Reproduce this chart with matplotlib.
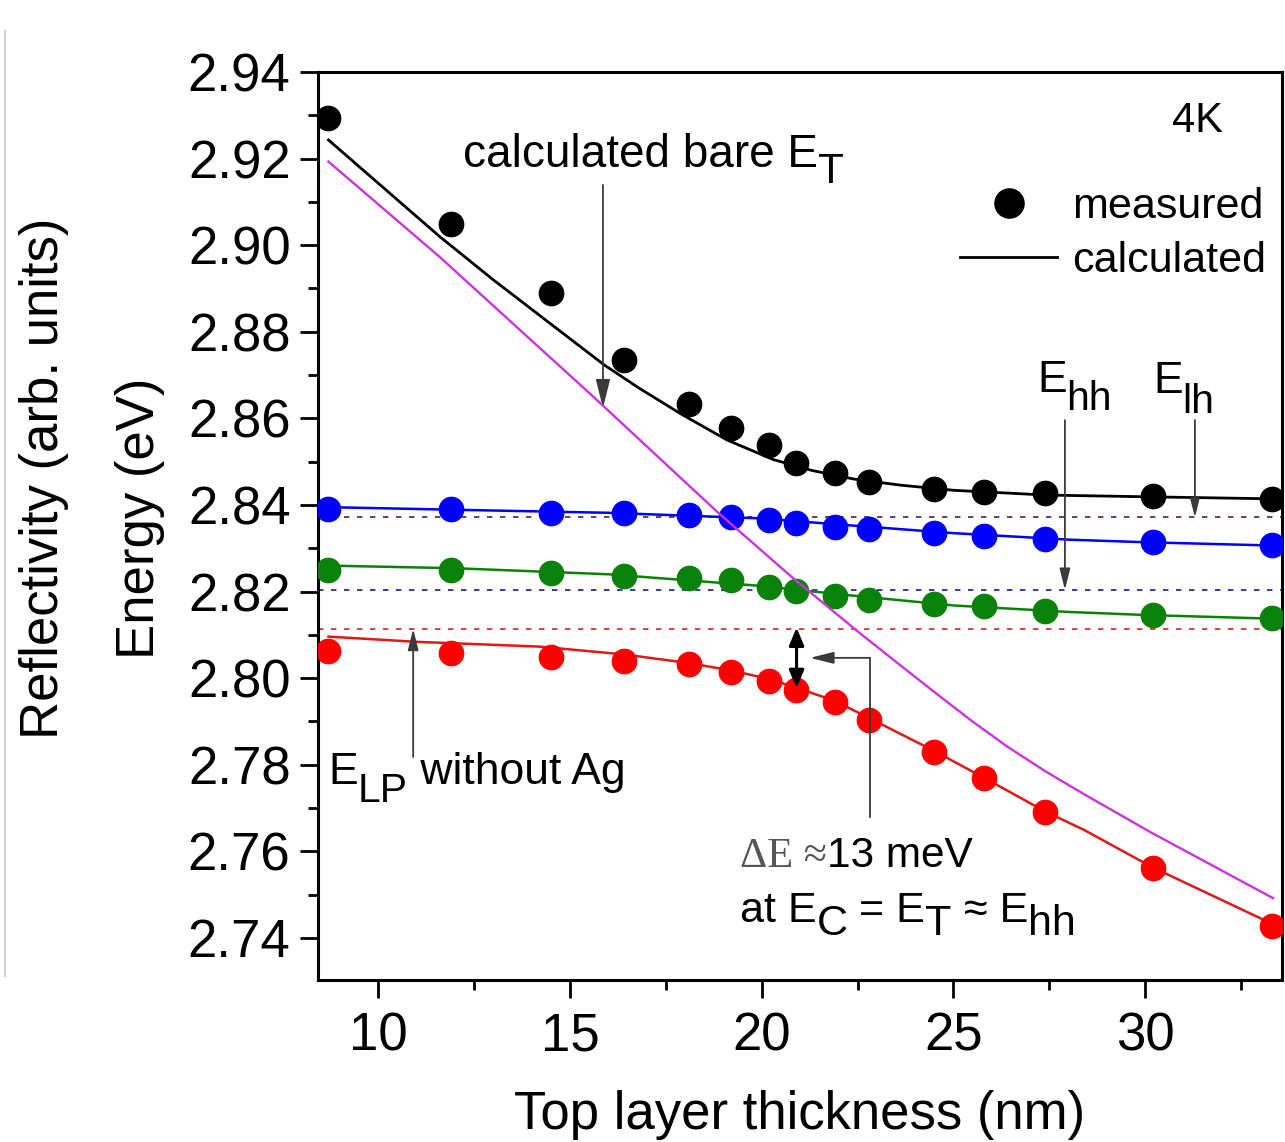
import numpy as np
import matplotlib
matplotlib.use("Agg")
import matplotlib.pyplot as plt
from matplotlib.lines import Line2D
from matplotlib.ticker import MultipleLocator, FixedLocator

plt.rcParams['font.family'] = ['Liberation Sans', 'DejaVu Sans']

# ---------------- data ----------------
thickness = [8.7, 11.9, 14.5, 16.4, 18.1, 19.2, 20.2, 20.9, 21.9, 22.8, 24.5, 25.8, 27.4, 30.2, 33.3]
E_upper_meas = [2.9293, 2.9050, 2.8890, 2.8736, 2.8633, 2.8577, 2.8539, 2.8496, 2.8475, 2.8452,
                2.8438, 2.8431, 2.8427, 2.8420, 2.8414]
E_lh_meas = [2.8390, 2.8390, 2.8382, 2.8381, 2.8377, 2.8373, 2.8365, 2.8358, 2.8350, 2.8345,
             2.8335, 2.8328, 2.8322, 2.8315, 2.8308]
E_hh_meas = [2.8251, 2.8250, 2.8244, 2.8236, 2.8231, 2.8227, 2.8211, 2.8202, 2.8190, 2.8181,
             2.8171, 2.8167, 2.8155, 2.8146, 2.8138]
E_LP_meas = [2.8063, 2.8059, 2.8050, 2.8040, 2.8032, 2.8015, 2.7994, 2.7973, 2.7946, 2.7903,
             2.7830, 2.7769, 2.7692, 2.7561, 2.7428]

calc_upper_x = [8.7, 10.0, 11.6, 13.0, 14.5, 15.9, 16.8, 17.9, 19.1, 20.3, 21.3, 22.4, 23.6, 25.0, 27.4, 30.0, 33.5]
calc_upper = [2.9243, 2.9143, 2.9020, 2.8920, 2.8818, 2.8723, 2.8670, 2.8610, 2.8550, 2.8505,
              2.8480, 2.8460, 2.8446, 2.8434, 2.8423, 2.8419, 2.8414]

calc_x = [8.7, 12.0, 16.0, 20.0, 22.0, 25.0, 28.0, 30.0, 33.5]
calc_lh = [2.8395, 2.8389, 2.8382, 2.8369, 2.8355, 2.8335, 2.8320, 2.8314, 2.8306]
calc_hh = [2.8260, 2.8254, 2.8240, 2.8213, 2.8194, 2.8168, 2.8153, 2.8146, 2.8137]

calc_LP_x = [8.7, 11.0, 14.2, 16.4, 18.1, 19.2, 20.2, 20.9, 21.9, 22.8, 24.5, 25.8, 27.4, 28.4, 30.2, 33.5]
calc_LP = [2.8096, 2.8084, 2.8073, 2.8055, 2.8035, 2.8018, 2.7998, 2.7978, 2.7948, 2.7908,
           2.7832, 2.7770, 2.7692, 2.7650, 2.7563, 2.7425]

bare_ET_x = [8.70, 11.60, 15.61, 18.83, 20.82, 22.56, 23.60, 24.65, 25.50, 26.39, 27.40, 28.43, 30.17, 33.34]
bare_ET = [2.9193, 2.8973, 2.8650, 2.8385, 2.8231, 2.8104, 2.8031, 2.7958, 2.7900, 2.7843,
           2.7785, 2.7731, 2.7643, 2.7492]

level_lh = 2.8373
level_hh = 2.8204
level_LP = 2.8114

yticks = [2.74, 2.76, 2.78, 2.80, 2.82, 2.84, 2.86, 2.88, 2.90, 2.92, 2.94]
xticks = [10, 15, 20, 25, 30]

# ---------------- figure ----------------
fig = plt.figure(figsize=(12.85, 11.42), dpi=100)
ax = fig.add_axes([0.2477, 0.14186, 0.7497, 0.7951])
ax.set_xlim(8.435, 33.563)
ax.set_ylim(2.7303, 2.94)

dash = (0, (3, 4.2))
ax.axhline(level_lh, color='#5a2f6e', lw=1.3, ls=dash, zorder=1)
ax.axhline(level_hh, color='#2c2c98', lw=1.3, ls=dash, zorder=1)
ax.axhline(level_LP, color='#e03030', lw=1.3, ls=dash, zorder=1)

ax.plot(calc_upper_x, calc_upper, color='black', lw=2.0, zorder=2)
ax.plot(calc_x, calc_lh, color='#0000ff', lw=1.8, zorder=2)
ax.plot(calc_x, calc_hh, color='#0a820a', lw=1.8, zorder=2)
ax.plot(calc_LP_x, calc_LP, color='#e01818', lw=1.8, zorder=2)

ms = 17.5
ax.plot(thickness, E_upper_meas, ls='none', marker='o', ms=ms, color='black', zorder=3)
ax.plot(thickness, E_lh_meas, ls='none', marker='o', ms=ms, color='#0000ff', zorder=3)
ax.plot(thickness, E_hh_meas, ls='none', marker='o', ms=ms, color='#0a820a', zorder=3)
ax.plot(thickness, E_LP_meas, ls='none', marker='o', ms=ms, color='#ff0000', zorder=3)

ax.plot(bare_ET_x, bare_ET, color='#cc33dd', lw=1.7, zorder=4)

# ---------------- axes styling ----------------
for s in ax.spines.values():
    s.set_linewidth(2.2)
ax.yaxis.set_major_locator(FixedLocator(yticks))
ax.yaxis.set_minor_locator(MultipleLocator(0.01))
ax.xaxis.set_major_locator(FixedLocator(xticks))
ax.xaxis.set_minor_locator(MultipleLocator(2.5))
ax.set_yticklabels([f"{v:.2f}" for v in yticks])
ax.tick_params(which='both', direction='out', top=False, right=False, width=2)
ax.tick_params(which='major', length=13, labelsize=38)
ax.tick_params(axis='y', which='major', pad=7)
ax.tick_params(axis='x', which='major', pad=10)
ax.tick_params(which='minor', length=7)

ax.set_xlabel('Top layer thickness (nm)', fontsize=38, labelpad=20)
ax.set_ylabel('Energy (eV)', fontsize=38)
ax.yaxis.set_label_coords(-0.159, 0.509)
fig.text(44 / 1285, 1 - 478 / 1142, 'Reflectivity (arb. units)', rotation=90,
         ha='center', va='center', fontsize=38)
fig.add_artist(Line2D([5 / 1285, 5 / 1285], [1 - 31 / 1142, 1 - 976 / 1142],
                      color='#d0d0d0', lw=1.5, transform=fig.transFigure))

# ---------------- legend ----------------
h1 = Line2D([], [], ls='none', marker='o', color='black', ms=21)
h2 = Line2D([], [], color='black', lw=2)
ax.legend([h1, h2], ['measured', 'calculated'], loc='upper right',
          bbox_to_anchor=(0.9838, 0.873), frameon=False, fontsize=31,
          handlelength=2.25, handletextpad=0.35, labelspacing=0.31,
          borderpad=0, borderaxespad=0)


# ---------------- annotations ----------------
def rich(x, y, segs, size, sub_drop=0.36, sub_scale=0.92, color='black', gap=0.0):
    prev = None
    for txt, kind in segs:
        fam = ['Liberation Serif', 'DejaVu Serif'] if kind == 'serif' else ['Liberation Sans', 'DejaVu Sans']
        fs = size * sub_scale if kind == 'sub' else size
        dy = -sub_drop * size if kind == 'sub' else 0
        c = '#555555' if kind == 'serif' else color
        if prev is None:
            t = ax.annotate(txt, xy=(x, y), xycoords='data', xytext=(0, dy),
                            textcoords='offset points', ha='left', va='baseline',
                            fontsize=fs, family=fam, color=c, annotation_clip=False)
        else:
            t = ax.annotate(txt, xy=(1.0, y), xycoords=(prev, 'data'), xytext=(gap, dy),
                            textcoords='offset points', ha='left', va='baseline',
                            fontsize=fs, family=fam, color=c, annotation_clip=False)
        prev = t
    return prev


def arrow(x0, y0, x1, y1, color='#3a3a3a', lw=1.3, style='-|>,head_length=0.8,head_width=0.2', ms=22):
    ax.annotate('', xy=(x1, y1), xytext=(x0, y0),
                arrowprops=dict(arrowstyle=style, color=color, lw=lw, shrinkA=0, shrinkB=0,
                                mutation_scale=ms), annotation_clip=False)


rich(12.21, 2.9181, [('calculated bare E', 'n'), ('T', 'sub')], 33)
arrow(15.86, 2.9139, 15.86, 2.8624)

rich(30.70, 2.9261, [('4K', 'n')], 30)

rich(27.18, 2.8661, [('E', 'n'), ('hh', 'sub')], 32, sub_drop=0.4)
rich(30.21, 2.8659, [('E', 'n'), ('lh', 'sub')], 32, sub_drop=0.45)
arrow(27.91, 2.8596, 27.91, 2.8204, ms=16)
arrow(31.30, 2.8596, 31.30, 2.8371, ms=14)

rich(8.69, 2.7756, [('E', 'n'), ('LP', 'sub'), (' without Ag', 'n')], 32, sub_drop=0.4)
arrow(10.91, 2.7818, 10.91, 2.8114, ms=16)

# energy splitting marker
ax.annotate('', xy=(20.91, 2.7977), xytext=(20.91, 2.8117),
            arrowprops=dict(arrowstyle='<|-|>,head_length=0.6,head_width=0.25', color='black',
                            lw=2.2, shrinkA=0, shrinkB=0, mutation_scale=18))
ax.plot([22.82, 22.82], [2.7680, 2.8047], color='#3a3a3a', lw=1.3, zorder=5)
arrow(22.82, 2.8047, 21.26, 2.8047, ms=18)

rich(19.43, 2.7564, [('\u0394E \u2248', 'serif'), ('13 meV', 'n')], 30.5)
rich(19.43, 2.7437, [('at E', 'n'), ('C', 'sub'), (' = E', 'n'), ('T', 'sub'),
                     (' \u2248 E', 'n'), ('hh', 'sub')], 31, sub_drop=0.3, sub_scale=1.0)

fig.savefig('out.png', dpi=100)
